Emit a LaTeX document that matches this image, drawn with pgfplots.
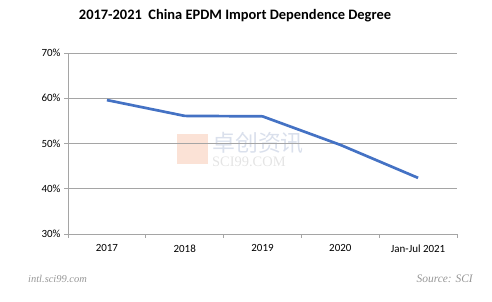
\documentclass[border=0pt]{standalone}
\usepackage{pgfplots}
\pgfplotsset{compat=1.18}
\usepackage{fontspec}
\setmainfont{Carlito}
\newfontfamily\cjk{Noto Sans CJK SC}
\newfontfamily\serifit{Liberation Serif}
\definecolor{lineblue}{RGB}{68,114,196}
\definecolor{gridgray}{RGB}{165,165,165}
\definecolor{wmred}{RGB}{251,226,214}
\definecolor{wmblue}{RGB}{218,224,236}
\definecolor{wmgray}{RGB}{228,228,228}
\definecolor{footgray}{RGB}{150,150,150}
\begin{document}
\begin{tikzpicture}
\useasboundingbox (0bp,0bp) rectangle (492bp,302bp);
\node[font=\bfseries\fontsize{14.5}{16}\selectfont] at (235bp,286bp) {2017-2021\ \ China EPDM Import Dependence Degree};
% watermark
\fill[wmred] (177bp,138bp) rectangle (208bp,168bp);
\node[font=\cjk\fontsize{23}{25}\selectfont, text=wmblue, anchor=west, inner sep=0pt] at (212bp,159bp) {卓创资讯};
\node[font=\serifit\fontsize{14.5}{15}\selectfont, text=wmgray, anchor=west, inner sep=0pt] at (212bp,140bp) {SCI99.COM};
\begin{axis}[
  at={(68bp,68bp)}, anchor=south west,
  scale only axis, width=389bp, height=181bp,
  xmin=-0.5, xmax=4.5, ymin=30, ymax=70,
  ytick={30,40,50,60,70},
  yticklabel={\pgfmathprintnumber{\tick}\%},
  xtick={0,1,2,3,4},
  xticklabels={2017,2018,2019,2020,Jan-Jul 2021},
  minor xtick={-0.5,0.5,1.5,2.5,3.5,4.5},
  major x tick style={draw=none},
  minor x tick style={gridgray, line width=0.8pt},
  y tick style={gridgray, line width=0.8pt},
  tick align=outside,
  major tick length=4bp, minor tick length=4bp,
  ymajorgrids, grid style={gridgray, line width=0.8pt},
  axis line style={gridgray, line width=0.8pt},
  axis x line*=bottom, axis y line*=left,
  tick label style={font=\fontsize{11}{12}\selectfont, text=black},
  /pgf/number format/assume math mode=true,
  xticklabel style={yshift=-3bp},
  clip=false,
]
\addplot[lineblue, line width=2.7pt, mark=none] coordinates {
  (0,59.6) (1,56.1) (2,56.0) (3,49.7) (4,42.4)
};
\end{axis}
\node[font=\serifit\itshape\fontsize{10.5}{11}\selectfont, text=footgray, anchor=west, inner sep=0pt] at (28bp,23bp) {intl.sci99.com};
\node[font=\serifit\itshape\fontsize{11.5}{12}\selectfont, text=footgray, anchor=east, inner sep=0pt] at (473bp,23bp) {Source: SCI};
\end{tikzpicture}
\end{document}
